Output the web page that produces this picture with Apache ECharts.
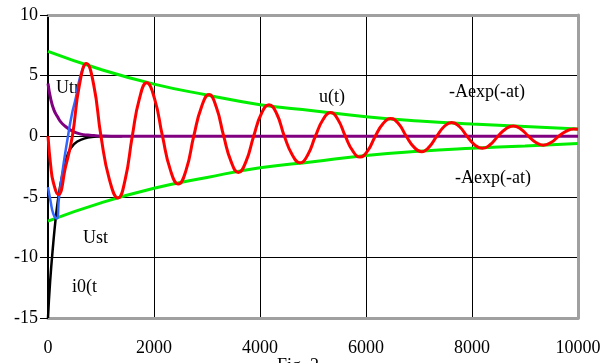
<!DOCTYPE html>
<html>
<head>
<meta charset="utf-8">
<script src="https://cdn.jsdelivr.net/npm/echarts@6/dist/echarts.min.js"></script>
<style>
html,body{margin:0;padding:0;background:#fff;}
#c{width:605px;height:363px;}
</style>
</head>
<body>
<div id="c"></div>
<script>
// x tick labels / y tick labels
const xTicks = [0, 2000, 4000, 6000, 8000, 10000];
const yTicks = [-15, -10, -5, 0, 5, 10];

// u(t) (red)
const uT = [0, 50, 100, 195, 333, 459, 592, 725, 860, 1000, 1160, 1321, 1455, 1590, 1725, 1862, 2010, 2160, 2310, 2459, 2605, 2750, 2895, 3038, 3175, 3315, 3455, 3591, 3735, 3880, 4025, 4170, 4315, 4460, 4610, 4755, 4900, 5045, 5190, 5333, 5470, 5610, 5750, 5887, 6030, 6175, 6320, 6466, 6615, 6760, 6905, 7050, 7190, 7335, 7475, 7617, 7760, 7905, 8050, 8195, 8340, 8490, 8635, 8780, 8920, 9065, 9205, 9346, 9490, 9635, 9780, 9920, 10000];
const uV = [0, -2.4, -3.8, -4.8, -2.5, 0, 4.2, 6.0, 4.3, 0, -3.6, -5.1, -3.6, 0, 3.1, 4.4, 3.1, 0, -2.8, -3.95, -2.8, 0, 2.4, 3.44, 2.4, 0, -2.1, -3.0, -2.1, 0, 1.85, 2.6, 1.85, 0, -1.55, -2.2, -1.55, 0, 1.38, 1.95, 1.38, 0, -1.22, -1.72, -1.22, 0, 1.03, 1.46, 1.03, 0, -0.9, -1.28, -0.9, 0, 0.8, 1.13, 0.8, 0, -0.71, -1.0, -0.71, 0, 0.6, 0.85, 0.6, 0, -0.52, -0.74, -0.52, 0, 0.42, 0.6, 0.58];

// Ust (blue)
const sT = [0, 50, 100, 163, 207, 290, 377, 450, 522, 600, 680, 725];
const sV = [-4.2, -5.4, -6.4, -6.8, -5.1, -2.4, 0, 1.8, 3.1, 4.8, 5.8, 6.0];

// Utr (purple)
const pT = [0, 50, 113, 180, 240, 330, 428, 520, 617, 750, 870, 1000, 1200, 10000];
const pV = [4.35, 3.1, 2.15, 1.6, 1.18, 0.8, 0.5, 0.3, 0.17, 0.09, 0.05, 0.02, 0, 0];

// i0(t) (black)
const kT = [0, 40, 100, 150, 200, 270, 364, 490, 679, 868, 1100, 1400];
const kV = [-15, -12, -8.8, -6.6, -4.9, -3.2, -1.6, -0.65, -0.2, -0.05, -0.01, 0];

// envelopes (green)
const eT = [0, 1000, 2000, 3000, 4000, 5000, 6000, 7000, 8000, 9000, 10000];
const eUp = [7.0, 5.5, 4.3, 3.4, 2.6, 2.1, 1.6, 1.25, 1.0, 0.8, 0.6];
const eLo = [-7.0, -5.5, -4.3, -3.4, -2.6, -2.1, -1.6, -1.25, -1.0, -0.8, -0.6];

const zip = (a, b) => a.map((v, i) => [v, b[i]]);
const FONT = '"Liberation Serif", "Times New Roman", "DejaVu Serif", serif';
const TFONT = '18px ' + FONT;

const chart = echarts.init(document.getElementById('c'));
const lineS = (data, color, w, z) => ({
  type: 'line', data, smooth: true, showSymbol: false, symbol: 'none',
  lineStyle: { color, width: w }, z, xAxisIndex: 0, yAxisIndex: 0, silent: true
});
const txt = (s, x, y, va) => ({ type: 'text', x, y, z: 1,
  style: { text: s, font: TFONT, fill: '#000', verticalAlign: va || 'middle' } });

chart.setOption({
  animation: false,
  backgroundColor: '#fff',
  grid: { left: 48, right: 27, top: 15, bottom: 45, show: false },
  xAxis: [{
    type: 'value', min: 0, max: 10000, interval: 2000,
    axisLine: { show: true, onZero: false, lineStyle: { color: '#a0a0a0', width: 3 } },
    axisTick: { show: false },
    axisLabel: { fontFamily: FONT, fontSize: 18, color: '#000', margin: 21,
      customValues: xTicks, formatter: v => String(v) },
    splitLine: { show: true, lineStyle: { color: '#000', width: 1 } }
  }, {
    type: 'value', min: 0, max: 10000, position: 'top',
    axisLine: { show: true, onZero: false, lineStyle: { color: '#a0a0a0', width: 3 } },
    axisTick: { show: false }, axisLabel: { show: false }, splitLine: { show: false }
  }],
  yAxis: [{
    type: 'value', min: -15, max: 10, interval: 5,
    axisLine: { show: true, onZero: false, lineStyle: { color: '#000', width: 2 } },
    axisTick: { show: true, length: 8, lineStyle: { color: '#000', width: 1 } },
    axisLabel: { fontFamily: FONT, fontSize: 18, color: '#000', margin: 10,
      customValues: yTicks, formatter: v => String(v) },
    splitLine: { show: true, lineStyle: { color: '#000', width: 1 } }
  }, {
    type: 'value', min: -15, max: 10, position: 'right',
    axisLine: { show: true, onZero: false, lineStyle: { color: '#a0a0a0', width: 3 } },
    axisTick: { show: false }, axisLabel: { show: false }, splitLine: { show: false }
  }],
  series: [
    lineS(zip(eT, eUp), '#00ee00', 3, 2),
    lineS(zip(eT, eLo), '#00ee00', 3, 2),
    lineS(zip(kT, kV), '#000000', 2.5, 3),
    lineS(zip(pT, pV), '#800080', 3, 4),
    lineS(zip(sT, sV), '#3366ff', 2.5, 5),
    lineS(zip(uT, uV), '#ff0000', 3, 6)
  ],
  graphic: [
    txt('Utr', 56, 88),
    txt('u(t)', 319, 97),
    txt('-Aexp(-at)', 449, 92),
    txt('-Aexp(-at)', 455, 178),
    txt('Ust', 83, 238),
    txt('i0(t', 72, 287),
    txt('Fig. 2', 277, 357, 'top')
  ]
});
</script>
</body>
</html>
